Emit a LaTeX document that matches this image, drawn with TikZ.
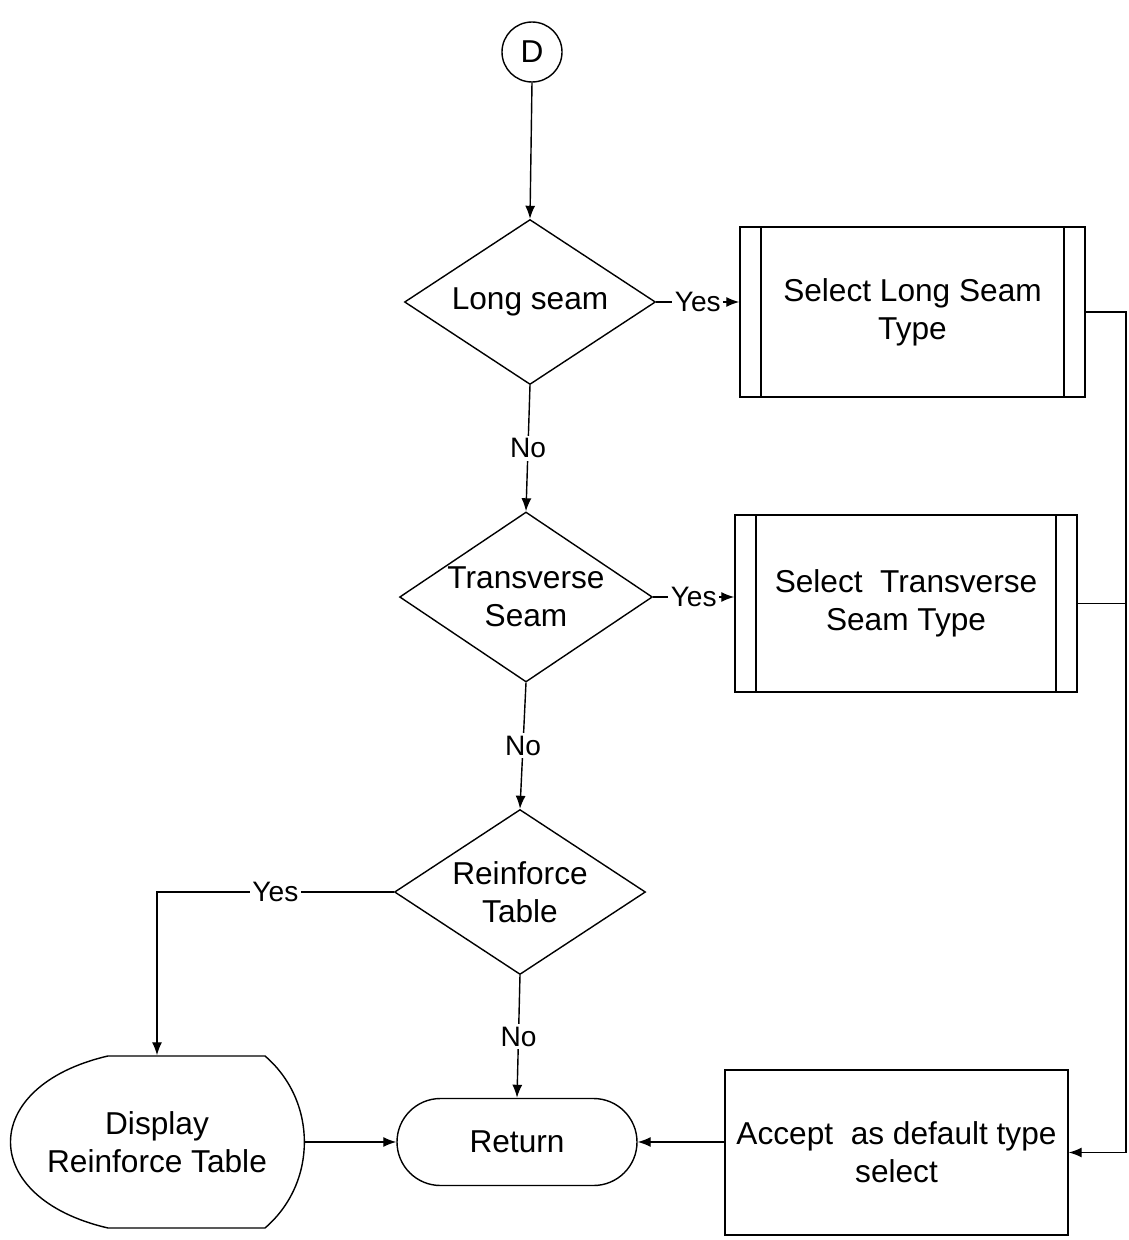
\documentclass[tikz,border=0pt]{standalone}
\usepackage{fontspec}
\setmainfont{Liberation Sans}
\usetikzlibrary{shapes.geometric,shapes.misc,arrows.meta}

\begin{document}
\begin{tikzpicture}[scale=0.2, line width=0.8pt, >={Latex[length=2.6mm,width=2mm]}, font=\fontsize{18}{21.5}\selectfont]
        \tikzstyle{every node}+=[inner sep=0pt]
        \tikzstyle{decision}=[draw=black, diamond, aspect=1.6, minimum width=5.02cm, minimum height=3.3cm, align=center]
        \tikzstyle{subproc}=[draw=black, rectangle, align=center, path picture={
            \draw [black] ([xshift=0.42cm]path picture bounding box.south west) -- ([xshift=0.42cm]path picture bounding box.north west);
            \draw [black] ([xshift=-0.42cm]path picture bounding box.south east) -- ([xshift=-0.42cm]path picture bounding box.north east);}]
        \tikzstyle{lbl}=[fill=white, inner sep=1.5pt, font=\fontsize{16}{19}\selectfont]
        \useasboundingbox (0,0) rectangle (112.9,-124);
        \node [draw=black, circle, minimum size=1.2cm] (d) at (53.2,-5.2) {D};
        \node [decision] (long) at (53.0,-30.2) {Long seam};
        \node [subproc, minimum width=6.9cm, minimum height=3.4cm] (sel1) at (91.25,-31.2) {Select Long Seam\\Type};
        \node [decision, minimum height=3.4cm] (trans) at (52.6,-59.7) {Transverse\\Seam};
        \node [subproc, minimum width=6.84cm, minimum height=3.54cm] (sel2) at (90.6,-60.35) {Select\ \ Transverse\\Seam Type};
        \node [decision] (reinf) at (52.0,-89.2) {Reinforce\\Table};
        \node [minimum width=5.9cm, minimum height=3.44cm, align=center] (disp) at (15.7,-114.2) {Display\\Reinforce Table};
        \draw [black, shift={(disp.center)}] (-4.9,8.6) -- (10.8,8.6) .. controls +(5.25,-4.5) and +(5.25,4.5) .. (10.8,-8.6) -- (-4.9,-8.6) .. controls +(-13,3) and +(-13,-3) .. cycle;
        \node [draw=black, rounded rectangle, minimum width=4.8cm, minimum height=1.74cm] (ret) at (51.7,-114.2) {Return};
        \node [draw=black, rectangle, minimum width=6.86cm, minimum height=3.3cm, align=center] (acc) at (89.65,-115.25) {Accept\ \ as default type\\select};
        \coordinate (bus) at (112.6,-31.6);
        \draw [->] (d.south) -- (long.north);
        \draw [->] (long.east) -- node [lbl] {Yes} (long.east -| sel1.west);
        \draw [->] (long.south) -- node [lbl] {No} (trans.north);
        \draw [->] (trans.east) -- node [lbl] {Yes} (trans.east -| sel2.west);
        \draw [->] (trans.south) -- node [lbl] {No} (reinf.north);
        \draw [->] (reinf.west) -| node [lbl, pos=0.25] {Yes} (disp.north);
        \draw [->] (reinf.south) -- node [lbl] {No} (ret.north);
        \draw [->] (disp.east) -- (ret.west);
        \draw [->] (acc.west |- ret.east) -- (ret.east);
        \draw [->] (sel1.east) -- (sel1.east -| bus) |- (acc.east);
        \draw (sel2.east) -- (sel2.east -| bus);
\end{tikzpicture}
\end{document}
